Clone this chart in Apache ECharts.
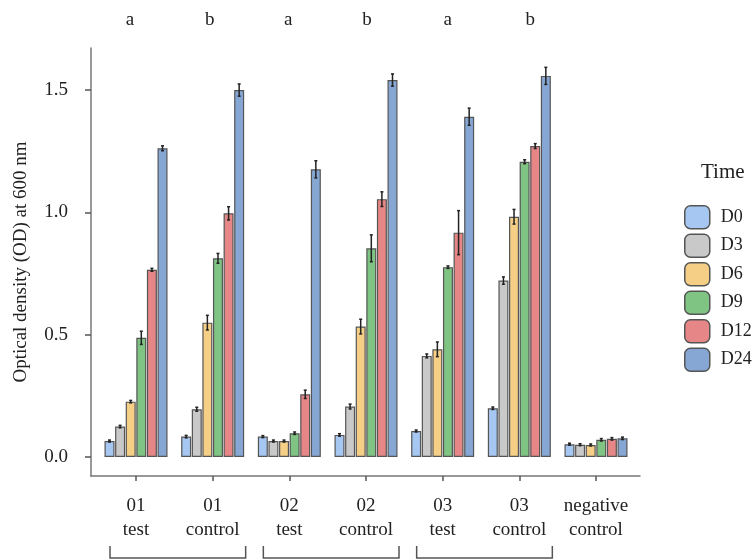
<!DOCTYPE html>
<html><head><meta charset="utf-8">
<script src="https://cdn.jsdelivr.net/npm/echarts@6/dist/echarts.min.js"></script>
<style>html,body{margin:0;padding:0;background:#fff}#c{width:755px;height:560px}</style>
</head><body><div id="c"></div>
<script>
// ---- data ----
const categories = ['01\ntest', '01\ncontrol', '02\ntest', '02\ncontrol', '03\ntest', '03\ncontrol', 'negative\ncontrol'];
const timeNames = ['D0', 'D3', 'D6', 'D9', 'D12', 'D24'];
const valD0  = [0.065, 0.083, 0.083, 0.090, 0.106, 0.199, 0.052];
const valD3  = [0.124, 0.195, 0.065, 0.206, 0.413, 0.721, 0.050];
const valD6  = [0.226, 0.549, 0.065, 0.533, 0.440, 0.982, 0.049];
const valD9  = [0.487, 0.812, 0.097, 0.853, 0.776, 1.207, 0.070];
const valD12 = [0.765, 0.996, 0.256, 1.054, 0.917, 1.271, 0.074];
const valD24 = [1.262, 1.500, 1.176, 1.541, 1.391, 1.558, 0.076];
const errD0  = [0.004, 0.005, 0.004, 0.005, 0.004, 0.005, 0.004];
const errD3  = [0.005, 0.008, 0.004, 0.010, 0.008, 0.015, 0.004];
const errD6  = [0.005, 0.030, 0.004, 0.030, 0.030, 0.030, 0.004];
const errD9  = [0.027, 0.020, 0.005, 0.055, 0.005, 0.008, 0.005];
const errD12 = [0.006, 0.027, 0.017, 0.030, 0.090, 0.010, 0.005];
const errD24 = [0.010, 0.025, 0.035, 0.025, 0.035, 0.035, 0.005];
const yTickValues = [0, 0.5, 1.0, 1.5];
const groupLetters = ['a', 'b', 'a', 'b', 'a', 'b'];
const bracketPairs = [[0, 1], [2, 3], [4, 5]];

const values = [valD0, valD3, valD6, valD9, valD12, valD24];
const errors = [errD0, errD3, errD6, errD9, errD12, errD24];

// ---- styles ----
const colors = ['#a6c7f1', '#c9c9c9', '#f5cf86', '#80c484', '#e68686', '#86a7d4'];
const FONT = '"Liberation Serif", "Times New Roman", serif';
const BAR_W = 10, BAR_GAP_PX = 0.6;

const chart = echarts.init(document.getElementById('c'), null, {renderer: 'canvas'});

const series = [];
timeNames.forEach((name, s) => {
  series.push({
    name: name, type: 'bar', barWidth: BAR_W, barGap: (BAR_GAP_PX / BAR_W * 100) + '%',
    itemStyle: {color: colors[s], borderColor: '#555', borderWidth: 1.2},
    emphasis: {disabled: true},
    data: values[s].map((v, i) => [i, v])
  });
});
timeNames.forEach((name, s) => {
  const off = (s - (timeNames.length - 1) / 2) * (BAR_W + BAR_GAP_PX);
  series.push({
    type: 'custom', name: name + '_err', silent: true, z: 5,
    encode: {x: 0, y: 1},
    data: values[s].map((v, i) => [i, v, errors[s][i]]),
    renderItem: function (params, api) {
      const x = api.value(0), y = api.value(1), e = api.value(2);
      const p1 = api.coord([x, y - e]);
      const p2 = api.coord([x, y + e]);
      const cx = p1[0] + off;
      const st = {stroke: '#222', lineWidth: 1.5};
      return {type: 'group', children: [
        {type: 'line', shape: {x1: cx, y1: p1[1], x2: cx, y2: p2[1]}, style: st},
        {type: 'line', shape: {x1: cx - 1.5, y1: p1[1], x2: cx + 1.5, y2: p1[1]}, style: st},
        {type: 'line', shape: {x1: cx - 1.5, y1: p2[1], x2: cx + 1.5, y2: p2[1]}, style: st}
      ]};
    }
  });
});

const option = {
  animation: false,
  backgroundColor: '#fff',
  title: {
    text: 'Time', left: 696, top: 157,
    textStyle: {fontFamily: FONT, fontSize: 21, fontWeight: 'normal', color: '#222'}
  },
  legend: {
    data: timeNames, orient: 'vertical', left: 679, top: 200,
    itemWidth: 25, itemHeight: 23, itemGap: 4, icon: 'roundRect',
    selectedMode: false,
    itemStyle: {borderColor: '#555', borderWidth: 1.5},
    textStyle: {fontFamily: FONT, fontSize: 18, color: '#222', padding: [0, 0, 0, 6]}
  },
  grid: {left: 91, right: 115, top: 48, bottom: 84, containLabel: false},
  xAxis: {
    type: 'value', min: -0.587, max: 6.574,
    axisLine: {show: true, onZero: false, lineStyle: {color: '#777', width: 1.5}},
    axisTick: {show: true, customValues: categories.map((c, i) => i), length: 5, lineStyle: {color: '#555', width: 1.5}},
    axisLabel: {
      customValues: categories.map((c, i) => i),
      formatter: v => categories[Math.round(v)],
      fontFamily: FONT, fontSize: 19, color: '#222', lineHeight: 24, margin: 18
    },
    splitLine: {show: false}
  },
  yAxis: {
    type: 'value', min: -0.078, max: 1.672,
    name: 'Optical density (OD) at 600 nm', nameLocation: 'middle', nameGap: 60,
    nameTextStyle: {fontFamily: FONT, fontSize: 19, color: '#222'},
    axisLine: {show: true, onZero: false, lineStyle: {color: '#777', width: 1.5}},
    axisTick: {show: true, customValues: yTickValues, length: 6, lineStyle: {color: '#555', width: 1.5}},
    axisLabel: {
      customValues: yTickValues, formatter: v => v.toFixed(1),
      fontFamily: FONT, fontSize: 19, color: '#222', margin: 23
    },
    splitLine: {show: false}
  },
  series: series
};
chart.setOption(option);

// annotations: significance letters and pair brackets, positioned through the x axis
const letterShift = [-6, -3, -1, 1, 5, 11];
const graphics = [];
groupLetters.forEach((t, i) => {
  const px = chart.convertToPixel({xAxisIndex: 0}, i) + letterShift[i];
  graphics.push({
    type: 'text', x: px, y: 20,
    style: {text: t, fontFamily: FONT, fontSize: 19, fill: '#222', align: 'center', verticalAlign: 'middle'}
  });
});
bracketPairs.forEach(([a, b]) => {
  const xl = chart.convertToPixel({xAxisIndex: 0}, a) - 26;
  const xr = chart.convertToPixel({xAxisIndex: 0}, b) + 33;
  const st = {stroke: '#555', lineWidth: 1.5, fill: null};
  graphics.push({type: 'polyline', shape: {points: [[xl, 546], [xl, 558], [xr, 558], [xr, 546]]}, style: st});
});
chart.setOption({graphic: graphics});
</script>
</body></html>
